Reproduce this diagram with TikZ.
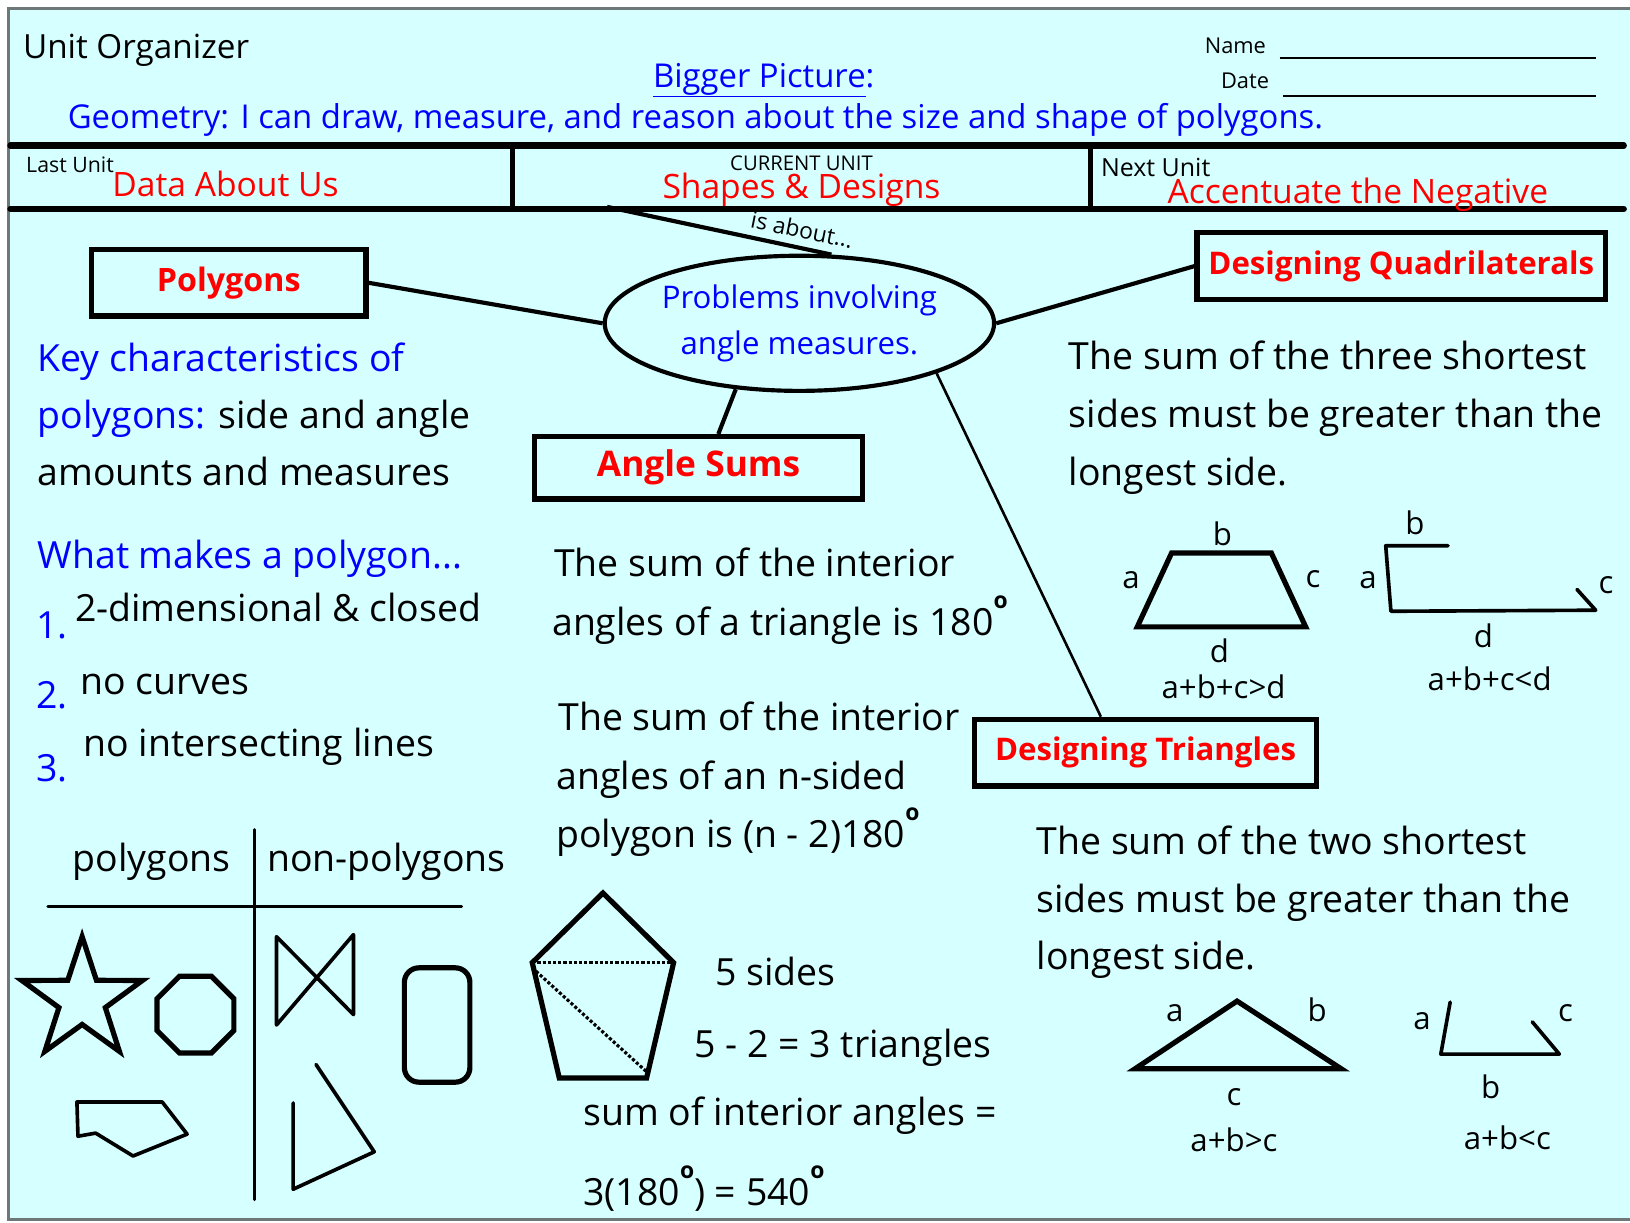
\documentclass[tikz,border=0pt]{standalone}
\usepackage{fontspec}
\setmainfont{Open Sans}
\usetikzlibrary{shapes.geometric,positioning}
\definecolor{sky}{HTML}{D6FFFF}
\definecolor{framegray}{HTML}{6E7878}
\definecolor{goalblue}{HTML}{0000FF}
\definecolor{unitred}{HTML}{FF0000}
\newcommand{\degmark}{\raisebox{26pt}{\fontsize{22}{22}\selectfont\bfseries o}}

\begin{document}
\begin{tikzpicture}[x=1pt, y=-1pt,
  txt/.style={anchor=base west, inner sep=0pt, font=\fontsize{36}{43}\selectfont},
  head/.style={anchor=base west, inner sep=0pt, font=\fontsize{31.6}{36}\selectfont},
  topic/.style={draw, line width=5pt, inner sep=0pt, text=unitred,
    font=\bfseries\fontsize{30}{36}\selectfont},
  lbl/.style={anchor=base, inner sep=0pt, font=\fontsize{30}{36}\selectfont},
  thick shape/.style={line width=5pt, line join=miter},
  thin shape/.style={line width=3.5pt, line join=round, line cap=round}]
\useasboundingbox (0,0) rectangle (1568,1176);
\fill[white] (0,0) rectangle (1568,1176);
\fill[sky] (8,8) rectangle (1568,1173);
\draw[framegray, line width=3pt] (1568,8) -- (8,8) -- (8,1173) -- (1568,1173);

% header
\node[head, font=\fontsize{32}{38}\selectfont] (unitorg) at (22,56) {Unit Organizer};
\node[head, text=goalblue] (bigpic) at (628,84) {\underline{Bigger Picture}:};
\node[head, text=goalblue] (goal) at (65,124) {Geometry: I can draw, measure, and reason about the size and shape of polygons.};
\node[anchor=base east, inner sep=0pt, font=\fontsize{21}{25}\selectfont] (name) at (1218,51) {Name};
\node[anchor=base east, inner sep=0pt, font=\fontsize{21}{25}\selectfont] (date) at (1221,85) {Date};
\draw[line width=2pt] (1231,56) -- (1535,56);
\draw[line width=2pt] (1234,92) -- (1535,92);

% unit row
\draw[line width=6pt, line cap=round] (10,140) -- (1562,140);
\draw[line width=6pt, line cap=round] (10,201) -- (1562,201);
\draw[line width=5pt] (493,140) -- (493,201);
\draw[line width=5pt] (1049,140) -- (1049,201);
\node[anchor=base west, inner sep=0pt, font=\fontsize{20.5}{24}\selectfont] (lastlbl) at (25,166) {Last Unit};
\node[anchor=base west, inner sep=0pt, text=unitred, font=\fontsize{32.3}{38}\selectfont] (lastunit) at (108,189) {Data About Us};
\node[anchor=base, inner sep=0pt, font=\fontsize{19.5}{23}\selectfont] (curlbl) at (771,164) {CURRENT UNIT};
\node[anchor=base, inner sep=0pt, text=unitred, font=\fontsize{32.3}{38}\selectfont] (curunit) at (771,191) {Shapes \& Designs};
\node[anchor=base west, inner sep=0pt, font=\fontsize{24}{28}\selectfont] (nextlbl) at (1059,170) {Next Unit};
\node[anchor=base west, inner sep=0pt, text=unitred, font=\fontsize{32.3}{38}\selectfont] (nextunit) at (1123,196) {Accentuate the Negative};

% concept map
\node[draw, ellipse, line width=4pt, minimum width=374pt, minimum height=130pt, inner sep=0pt,
  align=center, text=goalblue, font=\fontsize{30}{44}\selectfont] (probs) at (769,311)
  {Problems involving\\angle measures.};
\node[topic, minimum width=264pt, minimum height=64pt, font=\bfseries\fontsize{31}{36}\selectfont] (poly) at (220,272) {Polygons};
\node[topic, minimum width=393pt, minimum height=64pt] (quad) at (1348,256) {Designing Quadrilaterals};
\node[topic, minimum width=316pt, minimum height=60pt, font=\bfseries\fontsize{34}{40}\selectfont] (angsum) at (672,450) {Angle Sums};
\node[topic, minimum width=329pt, minimum height=64pt] (tri) at (1102,724) {Designing Triangles};

\coordinate (unitlink) at (584,199);
\draw[line width=4pt] (unitlink) -- (probs.65);
\node[rotate=-11.5, anchor=base, inner sep=0pt, font=\fontsize{22}{26}\selectfont] (isabout) at (770,229) {is about...};
\draw[line width=4pt] (poly.east) -- (probs.west);
\draw[line width=4pt] (probs.east) -- (quad.west);
\draw[line width=4pt] (probs.226) -- ([xshift=19pt]angsum.north);
\draw[line width=2.5pt] (probs.-20) -- ([xshift=-43pt]tri.north);

% polygons column
\node[txt, text=goalblue] (key1) at (36,357) {Key characteristics of};
\node[txt] (key2) at (36,412) {\textcolor{goalblue}{polygons:} side and angle};
\node[txt] (key3) at (36,467) {amounts and measures};
\node[txt, text=goalblue] (what) at (36,547) {What makes a polygon...};
\foreach \n/\ny/\rx/\ry/\rule in {1/614/72/598/{2-dimensional \& closed},
    2/682/77/668/no curves, 3/752/80/728/no intersecting lines} {
  \node[txt, text=goalblue] (num\n) at (35,\ny) {\n.};
  \node[txt] (rule\n) at (\rx,\ry) {\rule};
}

% polygons / non-polygons table
\node[txt] (polyhead) at (70,838) {polygons};
\node[txt] (nonhead) at (257,838) {non-polygons};
\draw[line width=3pt, line cap=round] (245,798) -- (245,1154);
\draw[line width=3pt, line cap=round] (46,872) -- (444,872);
\node[draw, star, star points=5, star point ratio=2.6, minimum size=122pt, inner sep=0pt,
  line width=5pt] (star) at (79,962) {};
\node[draw, regular polygon, regular polygon sides=8, minimum size=80pt, inner sep=0pt,
  line width=5pt] (octa) at (188,976) {};
\draw[thin shape] (74,1060) -- (156,1060) -- (180,1091) -- (128,1112) -- (92,1090) -- (75,1093) -- cycle;
\draw[thin shape] (266,986) -- (266,901) -- (340,976) -- (340,899) -- cycle;
\draw[line width=5pt, rounded corners=14pt] (389,931) rectangle (452,1041);
\draw[thin shape] (304,1024) -- (360,1108) -- (282,1144) -- (282,1061);

% angle sums column
\node[txt] (tri1) at (533,555) {The sum of the interior};
\node[txt] (tri2) at (531,611) {angles of a triangle is 180\degmark};
\node[txt] (ngon1) at (537,703) {The sum of the interior};
\node[txt] (ngon2) at (535,759) {angles of an n-sided};
\node[txt] (ngon3) at (535,815) {polygon is (n - 2)180\degmark};
\coordinate (pA) at (580,859);
\coordinate (pB) at (648,926);
\coordinate (pC) at (622,1037);
\coordinate (pD) at (538,1037);
\coordinate (pE) at (512,926);
\draw[thick shape] (pA) -- (pB) -- (pC) -- (pD) -- (pE) -- cycle;
\draw[line width=3pt, dotted] (pE) -- (pB);
\draw[line width=3pt, dotted] ([yshift=-5pt]pE) -- ([yshift=6pt]pC);
\node[txt] (sides) at (688,948) {5 sides};
\node[txt] (tris) at (668,1017) {5 - 2 = 3 triangles};
\node[txt] (sumint) at (561,1083) {sum of interior angles =};
\node[txt] (total) at (561,1160) {3(180\degmark) = 540\degmark};

% quadrilaterals column
\node[txt] (quad1) at (1028,355) {The sum of the three shortest};
\node[txt] (quad2) at (1028,411) {sides must be greater than the};
\node[txt] (quad3) at (1028,467) {longest side.};
\draw[thick shape] (1127,532) -- (1223,532) -- (1256,603) -- (1094,603) -- cycle;
\node[lbl] (qb) at (1176,525) {b};
\node[lbl] (qa) at (1088,566) {a};
\node[lbl] (qc) at (1263,565) {c};
\node[lbl] (qd) at (1173,637) {d};
\node[lbl] (qyes) at (1177,672) {a+b+c>d};
\draw[thin shape] (1393,525) -- (1333,525) -- (1338,588) -- (1535,587) -- (1517,567);
\node[lbl] (ob) at (1361,514) {b};
\node[lbl] (oa) at (1316,566) {a};
\node[lbl] (oc) at (1545,571) {c};
\node[lbl] (od) at (1427,623) {d};
\node[lbl] (qno) at (1433,664) {a+b+c<d};

% triangles column
\node[txt] (side1) at (997,822) {The sum of the two shortest};
\node[txt] (side2) at (997,878) {sides must be greater than the};
\node[txt] (side3) at (997,933) {longest side.};
\draw[thick shape] (1092,1028) -- (1190,963) -- (1290,1028) -- cycle;
\node[lbl] (ta) at (1130,983) {a};
\node[lbl] (tb) at (1267,983) {b};
\node[lbl] (tc) at (1187,1063) {c};
\node[lbl] (tyes) at (1187,1108) {a+b>c};
\draw[thin shape] (1395,964) -- (1386,1014) -- (1500,1014) -- (1474,983);
\node[lbl] (ua) at (1368,990) {a};
\node[lbl] (uc) at (1506,983) {c};
\node[lbl] (ub) at (1434,1057) {b};
\node[lbl] (tno) at (1450,1106) {a+b<c};
\end{tikzpicture}
\end{document}
